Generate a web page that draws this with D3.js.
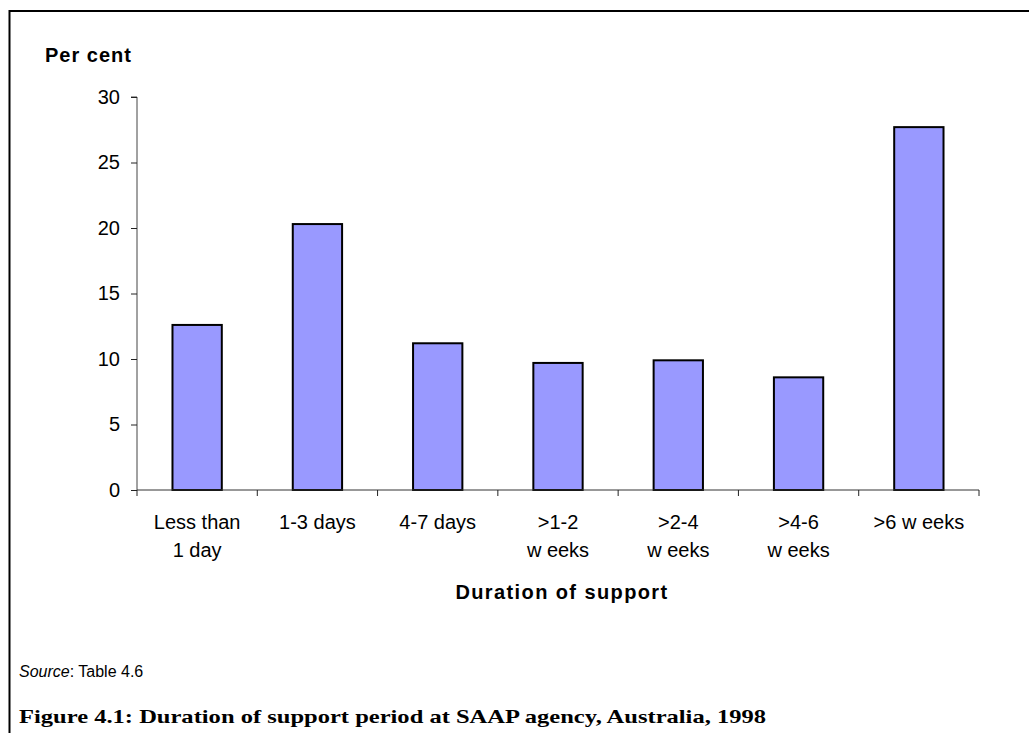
<!DOCTYPE html>
<html>
<head>
<meta charset="utf-8">
<script src="https://cdn.jsdelivr.net/npm/d3@7"></script>
<style>
  html, body { margin: 0; padding: 0; background: #fff; }
  svg { display: block; }
</style>
</head>
<body>
<svg id="chart" width="1029" height="733"></svg>
<script>
// ---- data ----
const categories = ["Less than 1 day", "1-3 days", "4-7 days", ">1-2 weeks", ">2-4 weeks", ">4-6 weeks", ">6 weeks"];
const categoryLines = [["Less than", "1 day"], ["1-3 days"], ["4-7 days"], [">1-2", "w eeks"], [">2-4", "w eeks"], [">4-6", "w eeks"], [">6 w eeks"]];
const values = [12.6, 20.3, 11.2, 9.7, 9.9, 8.6, 27.7];
const yTicks = [0, 5, 10, 15, 20, 25, 30];

const yLabel = "Per cent";
const xLabel = "Duration of support";
const sourceItalic = "Source";
const sourceRest = ": Table 4.6";
const caption = "Figure 4.1: Duration of support period at SAAP agency, Australia, 1998";

// ---- layout ----
const svg = d3.select("#chart");
const plot = { left: 137, right: 979, top: 97, bottom: 490 };
const sans = "'Liberation Sans', Arial, sans-serif";

// border (left + top)
svg.append("path")
  .attr("d", `M9.5,733 L9.5,11 L1029,11`)
  .attr("fill", "none").attr("stroke", "#000").attr("stroke-width", 2);

const x = d3.scaleBand().domain(categories).range([plot.left, plot.right])
  .paddingInner(0.59).paddingOuter(0.295);
const xb = d3.scaleBand().domain(categories).range([plot.left, plot.right]).padding(0);
const y = d3.scaleLinear().domain([0, 30]).range([plot.bottom, plot.top]);

// bars
svg.append("g").selectAll("rect").data(values).join("rect")
  .attr("x", (d, i) => x(categories[i]))
  .attr("y", d => y(d))
  .attr("width", x.bandwidth())
  .attr("height", d => y(0) - y(d))
  .attr("fill", "#9999FF")
  .attr("stroke", "#000")
  .attr("stroke-width", 2);

// y axis
const yAxis = svg.append("g").attr("transform", `translate(${plot.left},0)`)
  .call(d3.axisLeft(y).tickValues(yTicks).tickSize(6).tickPadding(11).tickFormat(d3.format("d")));
yAxis.select(".domain").attr("stroke", "#444").attr("d", `M-6,${y(30)}H0V${y(0)}`);
yAxis.selectAll(".tick line").attr("stroke", "#222");
yAxis.selectAll(".tick text").attr("font-family", sans).attr("font-size", 20).attr("fill", "#000");

// x axis
const boundaries = categories.map(c => xb(c)).concat([plot.right]);
const xg = svg.append("g");
xg.append("line").attr("x1", plot.left).attr("x2", plot.right)
  .attr("y1", y(0)).attr("y2", y(0)).attr("stroke", "#333");
xg.selectAll("line.tk").data(boundaries).join("line").attr("class", "tk")
  .attr("x1", d => d).attr("x2", d => d)
  .attr("y1", y(0)).attr("y2", y(0) + 6).attr("stroke", "#222");

const xl = svg.append("g");
categoryLines.forEach((lines, i) => {
  const cx = xb(categories[i]) + xb.bandwidth() / 2;
  lines.forEach((t, j) => {
    xl.append("text").attr("x", cx).attr("y", 529 + j * 28)
      .attr("text-anchor", "middle").attr("font-family", sans)
      .attr("font-size", 20).attr("fill", "#000").text(t);
  });
});

// axis titles
svg.append("text").attr("x", 45).attr("y", 62)
  .attr("font-family", sans).attr("font-size", 20).attr("font-weight", "bold")
  .attr("letter-spacing", 1).text(yLabel);
svg.append("text").attr("x", 562).attr("y", 599)
  .attr("text-anchor", "middle")
  .attr("font-family", sans).attr("font-size", 20).attr("font-weight", "bold")
  .attr("letter-spacing", 1.4).text(xLabel);

// source
const src = svg.append("text").attr("x", 19).attr("y", 677)
  .attr("font-family", sans).attr("font-size", 16).attr("fill", "#000");
src.append("tspan").attr("font-style", "italic").text(sourceItalic);
src.append("tspan").text(sourceRest);

// caption
svg.append("text").attr("x", 19).attr("y", 723)
  .attr("font-family", "'Liberation Serif', 'DejaVu Serif', serif")
  .attr("font-size", 19).attr("font-weight", "bold")
  .attr("textLength", 747).attr("lengthAdjust", "spacingAndGlyphs")
  .text(caption);
</script>
</body>
</html>
